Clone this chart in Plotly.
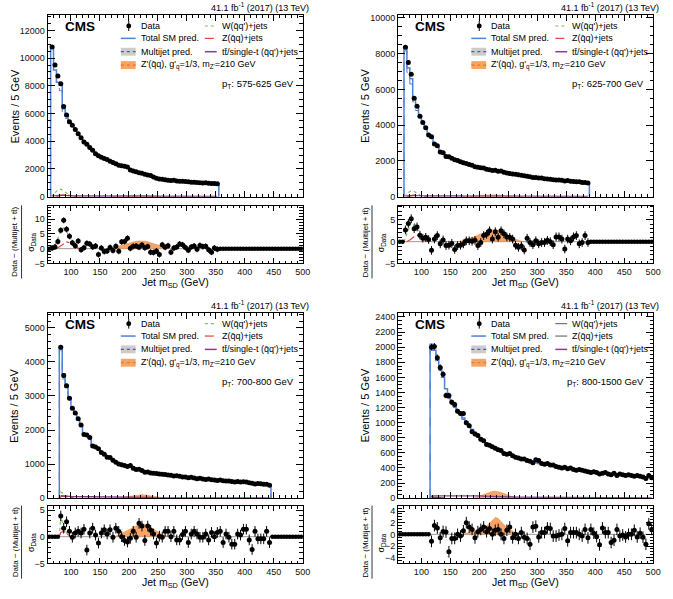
import numpy as np
import plotly.graph_objects as go

FIG_W, FIG_H = 673, 599
FONT = "Liberation Sans, Arial, Helvetica, sans-serif"

MSD_MIN, MSD_MAX = 60.0, 500.0
BIN_W = 5.0
LUMI_LABEL = "41.1 fb<sup>-1</sup> (2017) (13 TeV)"

# ---------------- panel 1 : pT 575-625 GeV ----------------
p1_pt = "575-625"
p1_first_bin = 67.5
p1_data = [
    10800, 9500, 8700, 8150, 6500, 5900, 5400, 5150, 4850, 4550,
    4250, 3950, 3780, 3550, 3350, 3100, 2950, 2850, 2750, 2680,
    2560, 2470, 2380, 2260, 2240, 2200, 2150, 1920, 1860, 1800,
    1720, 1690, 1620, 1560, 1530, 1420, 1330, 1280, 1250, 1220,
    1190, 1160, 1180, 1140, 1110, 1120, 1090, 1070, 1050, 1040,
    1020, 1010, 990, 1000, 970, 960, 950, 930]
p1_total = [
    10850, 9150, 8250, 8050, 6350, 5850, 5350, 5100, 4800, 4500,
    4200, 3950, 3750, 3520, 3300, 3050, 2980, 2870, 2760, 2650,
    2550, 2460, 2370, 2290, 2220, 2160, 2100, 1950, 1880, 1810,
    1740, 1680, 1620, 1570, 1510, 1430, 1350, 1300, 1260, 1230,
    1200, 1180, 1160, 1140, 1120, 1110, 1090, 1070, 1050, 1040,
    1020, 1005, 995, 985, 970, 960, 950, 935]
p1_multijet = [
    10750, 9000, 7950, 7650, 6050, 5650, 5250, 5050, 4770, 4480,
    4180, 3930, 3730, 3500, 3280, 3030, 2960, 2850, 2740, 2630,
    2530, 2440, 2350, 2270, 2200, 2140, 2080, 1930, 1860, 1790,
    1720, 1660, 1600, 1550, 1490, 1410, 1330, 1280, 1240, 1210,
    1185, 1165, 1145, 1125, 1105, 1095, 1075, 1055, 1035, 1025,
    1005, 990, 980, 970, 955, 945, 935, 920]
p1_ttbar = [
    40, 70, 100, 110, 90, 70, 60, 55, 50, 50,
    50, 50, 50, 50, 50, 50, 55, 55, 60, 60,
    60, 60, 55, 55, 50, 50, 45, 45, 40, 40,
    40, 35, 35, 35, 30, 30, 30, 30, 25, 25,
    25, 25, 25, 20, 20, 20, 20, 20, 20, 20,
    15, 15, 15, 15, 15, 15, 15, 15]
p1_w_first, p1_wjets = 67.5, [100, 280, 480, 550, 420, 230, 110, 50, 20]
p1_z_first, p1_zjets = 77.5, [30, 80, 130, 140, 100, 50, 20]
p1_sig_first = 172.5
p1_signal = [10, 20, 35, 50, 65, 80, 90, 100, 105, 105, 100, 90, 80, 65, 50, 35, 20, 10, 5]
p1_ratio = [
    0.2, 0.6, 2.4, 6.2, 9.6, 6.6, 4.2, 2.0, 1.0, 2.6,
    -0.4, 0.3, 1.8, 1.6, 0.6, 0.9, -2.0, 0.2, -1.0, -0.8,
    0.4, -0.6, 0.8, -0.9, 2.3, 2.4, 3.5, 0.1, 0.8, 0.9,
    0.5, 1.2, 0.3, 0.7, -1.2, -1.3, -0.8, -2.0, 1.3, 0.5,
    1.0, -1.2, 0.2, 0.6, 1.6, 1.3, 0.4, -0.5, 0.6, 0.9,
    -0.2, 1.1, 0.7, 0.8, -0.4, -1.2, 0.2, -0.2]
p1_rw_first, p1_ratio_w = 67.5, [0.2, 1.0, 3.2, 6.0, 7.0, 5.8, 4.0, 2.4, 1.0, 0.3, 0.0]
p1_rz_first, p1_ratio_z = 77.5, [0.3, 0.9, 1.8, 2.3, 2.0, 1.2, 0.5, 0.1, 0.0]
p1_rs_first = 167.5
p1_ratio_sig = [0.1, 0.3, 0.5, 0.8, 1.1, 1.4, 1.7, 2.0, 2.3, 2.5, 2.6,
                2.6, 2.5, 2.3, 2.0, 1.7, 1.3, 1.0, 0.6, 0.3, 0.1]

# ---------------- panel 2 : pT 625-700 GeV ----------------
p2_pt = "625-700"
p2_first_bin = 72.5
p2_data = [
    8350, 7500, 6850, 5500, 5050, 4500, 4150, 3850, 3450, 3350,
    2950, 2850, 2500, 2450, 2250, 2230, 2150, 2070, 2030, 1950,
    1900, 1850, 1800, 1760, 1680, 1640, 1620, 1600, 1540, 1510,
    1470, 1480, 1420, 1430, 1370, 1330, 1300, 1270, 1250, 1220,
    1200, 1170, 1140, 1120, 1080, 1070, 1050, 1040, 1010, 990,
    970, 950, 940, 930, 920, 880, 900, 860, 850, 840,
    830, 800, 790, 770]
p2_total = [
    8300, 7200, 6600, 5550, 5000, 4500, 4150, 3850, 3500, 3300,
    2980, 2820, 2550, 2450, 2300, 2220, 2150, 2080, 2020, 1960,
    1900, 1850, 1800, 1750, 1700, 1660, 1620, 1580, 1540, 1510,
    1480, 1450, 1420, 1400, 1370, 1340, 1310, 1280, 1250, 1230,
    1200, 1170, 1150, 1120, 1100, 1080, 1060, 1040, 1020, 1000,
    980, 960, 945, 930, 915, 900, 885, 870, 855, 840,
    825, 810, 795, 780]
p2_multijet = [
    8150, 6950, 6300, 5300, 4820, 4400, 4100, 3820, 3480, 3280,
    2960, 2800, 2530, 2430, 2280, 2200, 2130, 2060, 2000, 1940,
    1880, 1830, 1780, 1730, 1680, 1640, 1600, 1560, 1520, 1490,
    1460, 1430, 1400, 1380, 1350, 1320, 1290, 1260, 1230, 1210,
    1185, 1155, 1135, 1105, 1085, 1065, 1045, 1025, 1005, 985,
    965, 945, 930, 915, 900, 885, 870, 855, 840, 825,
    810, 795, 780, 765]
p2_ttbar = [
    30, 60, 80, 80, 60, 50, 45, 40, 40, 40,
    40, 40, 45, 45, 50, 50, 50, 50, 45, 45,
    40, 40, 40, 35, 35, 35, 30, 30, 30, 30,
    25, 25, 25, 25, 25, 20, 20, 20, 20, 20,
    20, 15, 15, 15, 15, 15, 15, 15, 15, 10,
    10, 10, 10, 10, 10, 10, 10, 10, 10, 10,
    10, 10, 10, 10]
p2_w_first, p2_wjets = 72.5, [80, 230, 330, 300, 180, 80, 30, 10]
p2_z_first, p2_zjets = 77.5, [20, 60, 100, 110, 70, 30, 10]
p2_sig_first = 172.5
p2_signal = [10, 20, 30, 45, 60, 75, 85, 95, 100, 105, 105, 100, 92, 80, 65, 50, 35, 22, 12, 6, 2]
p2_ratio = [
    2.7, 4.2, 5.3, 3.0, 3.4, 1.5, 0.8, 1.0, 0.5, -2.0,
    0.6, 1.4, -0.5, 0.4, -0.9, -0.8, -0.4, -1.8, -0.9, -0.8,
    -0.5, 0.2, 0.2, 0.1, 0.3, -0.9, -0.2, 1.4, 1.7, 2.5,
    0.6, 2.3, 1.0, 2.5, 1.8, 1.1, 1.0, 0.6, -0.8, -1.3,
    -1.0, -1.9, 0.8, -0.2, -0.7, 0.2, -0.5, -0.2, -0.2, 0.3,
    0.0, -0.7, 1.1, 1.1, 0.6, -1.7, 0.6, 0.2, 1.1, 1.4,
    -0.5, -0.2, 1.4, -0.2]
p2_rw_first, p2_ratio_w = 72.5, [1.0, 2.8, 4.5, 4.3, 3.0, 1.6, 0.6, 0.2, 0.0]
p2_rz_first, p2_ratio_z = 77.5, [0.2, 0.6, 1.2, 1.5, 1.2, 0.6, 0.2, 0.0]
p2_rs_first = 167.5
p2_ratio_sig = [0.1, 0.2, 0.4, 0.6, 0.9, 1.2, 1.5, 1.8, 2.1, 2.4, 2.6, 2.7,
                2.7, 2.6, 2.4, 2.1, 1.8, 1.4, 1.0, 0.6, 0.3, 0.1, 0.0]

# ---------------- panel 3 : pT 700-800 GeV ----------------
p3_pt = "700-800"
p3_first_bin = 82.5
p3_data = [
    4430, 3600, 3300, 2930, 2640, 2500, 2330, 2150, 1870, 1850,
    1780, 1530, 1500, 1450, 1340, 1290, 1200, 1190, 1110, 1050,
    1000, 980, 960, 930, 960, 880, 840, 850, 810, 760,
    770, 740, 730, 720, 710, 700, 690, 680, 670, 650,
    660, 640, 620, 620, 600, 610, 590, 570, 580, 560,
    550, 560, 540, 530, 520, 530, 510, 500, 505, 490,
    470, 490, 475, 480, 470, 450, 440, 415, 430, 420,
    410, 405, 380]
p3_total = [
    4450, 3650, 3250, 2950, 2650, 2480, 2320, 2120, 1900, 1840,
    1760, 1560, 1500, 1440, 1350, 1290, 1210, 1180, 1110, 1060,
    1010, 980, 950, 930, 910, 880, 850, 830, 800, 780,
    760, 745, 730, 720, 705, 695, 685, 675, 665, 655,
    645, 635, 625, 615, 605, 595, 585, 575, 565, 560,
    550, 545, 535, 530, 520, 515, 505, 500, 495, 488,
    482, 476, 470, 465, 458, 452, 446, 440, 433, 426,
    418, 410, 402]
p3_multijet = [
    4350, 3500, 3150, 2880, 2600, 2450, 2300, 2100, 1880, 1820,
    1740, 1540, 1480, 1420, 1330, 1270, 1190, 1160, 1090, 1040,
    990, 960, 930, 910, 890, 860, 830, 810, 780, 760,
    745, 730, 715, 705, 690, 680, 670, 660, 650, 640,
    630, 620, 612, 602, 592, 582, 572, 562, 553, 548,
    538, 533, 523, 518, 508, 503, 493, 488, 483, 476,
    470, 464, 458, 453, 446, 440, 434, 428, 421, 414,
    406, 398, 390]
p3_ttbar = [
    70, 70, 60, 50, 45, 40, 40, 40, 40, 40,
    40, 40, 40, 40, 40, 35, 35, 35, 30, 30,
    30, 30, 25, 25, 25, 25, 20, 20, 20, 20,
    20, 20, 15, 15, 15, 15, 15, 15, 15, 15,
    12, 12, 12, 12, 12, 10, 10, 10, 10, 10,
    10, 10, 10, 10, 8, 8, 8, 8, 8, 8,
    8, 8, 8, 8, 6, 6, 6, 6, 6, 6,
    6, 6, 6]
p3_w_first, p3_wjets = 82.5, [180, 130, 60, 25, 10]
p3_z_first, p3_zjets = 82.5, [40, 60, 50, 25, 10]
p3_sig_first = 177.5
p3_signal = [5, 15, 25, 40, 55, 70, 85, 95, 100, 100, 95, 85, 70, 55, 40, 25, 12, 5]
p3_ratio = [
    3.9, 1.6, 2.8, 1.0, -0.1, 0.7, 1.0, 0.7, 1.4, -2.5,
    0.7, 1.6, 0.3, -1.2, 0.7, 1.3, 0.5, 1.3, -0.1, 1.6,
    1.0, 0.0, -0.7, -1.0, -0.3, 1.0, -0.1, 2.5, 2.0, -0.7,
    2.0, 1.2, 0.5, -1.2, 0.1, -0.1, 1.0, 1.0, 0.0, 1.0,
    -0.6, -0.6, 0.4, 1.0, -1.1, 0.5, 1.0, 0.5, -0.1, -0.1,
    0.5, -0.6, 0.8, 0.0, 0.8, 1.0, -1.1, 0.5, -0.1, -1.4,
    -1.4, 0.5, 0.3, 1.4, 1.4, -0.6, -2.4, 1.0, -0.4, -0.4,
    -0.4, 1.0, -1.1]
p3_rw_first, p3_ratio_w = 82.5, [3.8, 1.8, 0.7, 0.2, 0.0]
p3_rz_first, p3_ratio_z = 82.5, [0.8, 1.0, 0.6, 0.2, 0.0]
p3_rs_first = 177.5
p3_ratio_sig = [0.1, 0.3, 0.6, 0.9, 1.2, 1.5, 1.8, 2.1, 2.3, 2.4,
                2.3, 2.1, 1.8, 1.4, 1.0, 0.7, 0.4, 0.2, 0.05]

# ---------------- panel 4 : pT 800-1500 GeV ----------------
p4_pt = "800-1500"
p4_first_bin = 117.5
p4_data = [
    2000, 2010, 1860, 1730, 1640, 1360, 1360, 1270, 1240, 1150,
    1120, 1120, 1000, 960, 880, 850, 830, 780, 760, 710,
    700, 680, 660, 640, 630, 590, 580, 590, 560, 540,
    530, 520, 520, 500, 490, 470, 510, 500, 460, 450,
    460, 440, 440, 420, 410, 400, 410, 390, 400, 380,
    370, 380, 370, 360, 350, 340, 350, 340, 320, 330,
    340, 320, 310, 330, 300, 320, 310, 300, 310, 300,
    290, 300, 290, 280, 260, 300, 270]
p4_total = [
    2040, 1960, 1830, 1720, 1600, 1450, 1340, 1280, 1220, 1160,
    1110, 1060, 1010, 960, 910, 870, 830, 795, 760, 730,
    705, 680, 660, 640, 620, 600, 585, 570, 555, 540,
    528, 516, 505, 495, 485, 476, 468, 460, 452, 444,
    436, 428, 420, 413, 406, 400, 394, 388, 382, 376,
    370, 365, 360, 355, 350, 345, 340, 336, 332, 328,
    324, 320, 316, 312, 308, 304, 300, 297, 294, 291,
    288, 285, 282, 279, 276, 273, 270]
p4_multijet = [
    2000, 1925, 1800, 1690, 1575, 1425, 1318, 1258, 1200, 1140,
    1091, 1042, 993, 944, 895, 856, 817, 783, 749, 720,
    695, 671, 652, 632, 613, 593, 578, 564, 549, 535,
    523, 511, 500, 490, 481, 472, 464, 456, 448, 440,
    432, 424, 417, 410, 403, 397, 391, 385, 379, 373,
    367, 362, 357, 352, 347, 342, 338, 334, 330, 326,
    322, 318, 314, 310, 306, 302, 298, 295, 292, 289,
    286, 283, 280, 277, 274, 271, 268]
p4_ttbar = [
    30, 30, 30, 30, 30, 30, 32, 34, 36, 38,
    40, 40, 40, 38, 36, 34, 32, 30, 28, 26,
    24, 22, 20, 20, 18, 18, 16, 16, 15, 15,
    14, 14, 13, 13, 12, 12, 11, 11, 10, 10,
    10, 9, 9, 9, 8, 8, 8, 8, 7, 7,
    7, 7, 6, 6, 6, 6, 6, 5, 5, 5,
    5, 5, 5, 5, 4, 4, 4, 4, 4, 4,
    4, 3, 3, 3, 3, 3, 3]
p4_w_first, p4_wjets = 117.5, [25, 15, 8, 4, 2]
p4_z_first, p4_zjets = 117.5, [12, 8, 4, 2, 1]
p4_sig_first = 192.5
p4_signal = [5, 15, 28, 45, 62, 78, 88, 92, 88, 76, 60, 42, 28, 16, 8, 3]
p4_ratio = [
    -1.2, 1.5, 1.1, -0.6, 0.5, 0.4, -3.0, -0.7, -0.7, 0.0,
    -0.3, 0.6, 2.0, 1.25, 0.85, -0.6, 0.45, 0.85, 1.25, 0.45,
    1.0, 0.0, 0.7, 0.85, 0.0, -0.7, 0.7, 1.25, -0.6, 0.0,
    -0.7, 0.3, -0.5, -0.7, -1.7, 1.25, 1.4, -0.45, 0.3, 0.3,
    1.1, 1.0, -0.3, -0.3, -0.1, 0.0, 1.0, -1.1, 0.3, 0.3,
    0.3, 0.0, -0.3, 0.85, -0.6, 0.85, 0.2, -0.4, -1.8, 1.1,
    0.3, 0.3, -1.4, -1.0, 0.85, -0.3, -0.1, -0.45, 0.0, 0.0,
    0.7, -0.45, 0.2, -0.5, -1.7, 1.8, 0.85]
p4_rw_first, p4_ratio_w = 117.5, []
p4_rz_first, p4_ratio_z = 117.5, []
p4_rs_first = 172.5
p4_ratio_sig = [0.05, 0.15, 0.3, 0.45, 0.6, 0.75, 0.9, 1.1, 1.4, 1.9, 2.5,
                2.9, 2.7, 2.2, 1.6, 1.1, 0.8, 0.5, 0.3, 0.15, 0.05]

# ---------------- styling ----------------
BLUE = "#4d84d6"
MULTI_LINE = "#7070b8"
MULTI_BAND = "#cccccc"
W_GREEN = "#7cbf5c"
Z_RED = "#e8413c"
TT_PURPLE = "#8e3a8e"
SIG_FILL = "rgba(245,148,78,0.85)"
SIG_LINE = "#ef8a3e"

GEOM = [
    dict(L=48.3, R=306.5, T=13.3, MB=197.0, RT=206.0, RB=264.5),
    dict(L=403.0, R=661.0, T=13.3, MB=197.0, RT=206.0, RB=264.5),
    dict(L=48.3, R=306.5, T=314.5, MB=502.0, RT=510.0, RB=568.0),
    dict(L=403.0, R=661.0, T=314.5, MB=502.0, RT=510.0, RB=568.0),
]

PANELS = [
    dict(pt=p1_pt, first=p1_first_bin, data=p1_data, total=p1_total, multi=p1_multijet, tt=p1_ttbar,
         w=(p1_w_first, p1_wjets), z=(p1_z_first, p1_zjets), sig=(p1_sig_first, p1_signal),
         ratio=p1_ratio, rw=(p1_rw_first, p1_ratio_w), rz=(p1_rz_first, p1_ratio_z),
         rsig=(p1_rs_first, p1_ratio_sig),
         yr=[0, 13100], dy=2000, mdy=500, ryr=[-5, 14.6], rdy=5, rmdy=1, drop=True, wzsolid=False),
    dict(pt=p2_pt, first=p2_first_bin, data=p2_data, total=p2_total, multi=p2_multijet, tt=p2_ttbar,
         w=(p2_w_first, p2_wjets), z=(p2_z_first, p2_zjets), sig=(p2_sig_first, p2_signal),
         ratio=p2_ratio, rw=(p2_rw_first, p2_ratio_w), rz=(p2_rz_first, p2_ratio_z),
         rsig=(p2_rs_first, p2_ratio_sig),
         yr=[0, 10150], dy=2000, mdy=500, ryr=[-5, 8.3], rdy=5, rmdy=1, drop=True, wzsolid=False),
    dict(pt=p3_pt, first=p3_first_bin, data=p3_data, total=p3_total, multi=p3_multijet, tt=p3_ttbar,
         w=(p3_w_first, p3_wjets), z=(p3_z_first, p3_zjets), sig=(p3_sig_first, p3_signal),
         ratio=p3_ratio, rw=(p3_rw_first, p3_ratio_w), rz=(p3_rz_first, p3_ratio_z),
         rsig=(p3_rs_first, p3_ratio_sig),
         yr=[0, 5440], dy=1000, mdy=200, ryr=[-5, 5.75], rdy=5, rmdy=1, drop=True, wzsolid=False),
    dict(pt=p4_pt, first=p4_first_bin, data=p4_data, total=p4_total, multi=p4_multijet, tt=p4_ttbar,
         w=(p4_w_first, p4_wjets), z=(p4_z_first, p4_zjets), sig=(p4_sig_first, p4_signal),
         ratio=p4_ratio, rw=(p4_rw_first, p4_ratio_w), rz=(p4_rz_first, p4_ratio_z),
         rsig=(p4_rs_first, p4_ratio_sig),
         yr=[0, 2455], dy=200, mdy=50, ryr=[-4.97, 4.85], rdy=2, rmdy=0.5, drop=False, wzsolid=True),
]


def px_x(px):
    return px / FIG_W


def px_y(py):
    return 1 - py / FIG_H


def centers(first, n):
    return [first + BIN_W * i for i in range(n)]


def step_xy(first, vals, drop_end=True):
    n = len(vals)
    left = first - BIN_W / 2
    edges = [left + BIN_W * i for i in range(n + 1)]
    x = [edges[0]] + edges[:n] + [edges[n]]
    y = [0] + list(vals) + [vals[-1]]
    if drop_end:
        x.append(edges[n])
        y.append(0)
    return x, y


def bump_xy(first, vals):
    c = centers(first, len(vals))
    return [c[0] - BIN_W / 2] + c + [c[-1] + BIN_W / 2], [0] + list(vals) + [0]


fig = go.Figure()
shapes = []
annotations = []
layout_axes = {}

for i, P in enumerate(PANELS):
    g = GEOM[i]
    km, kr = 2 * i + 1, 2 * i + 2
    xm = "x" if km == 1 else f"x{km}"
    ym = "y" if km == 1 else f"y{km}"
    xr, yr = f"x{kr}", f"y{kr}"
    xm_name = "xaxis" if km == 1 else f"xaxis{km}"
    ym_name = "yaxis" if km == 1 else f"yaxis{km}"

    # ---------- main panel ----------
    sx, sy = bump_xy(*P["sig"])
    fig.add_trace(go.Scatter(x=sx, y=sy, xaxis=xm, yaxis=ym, mode="lines", fill="tozeroy",
                             fillcolor=SIG_FILL, line=dict(color=SIG_LINE, width=0.6)))
    mx, my = step_xy(P["first"], P["multi"], P["drop"])
    fig.add_trace(go.Scatter(x=mx, y=my, xaxis=xm, yaxis=ym, mode="lines", line_shape="hv",
                             line=dict(color=MULTI_LINE, width=1, dash="dash")))
    wx, wy = bump_xy(*P["w"])
    zx, zy = bump_xy(*P["z"])
    if P["wzsolid"]:
        wstyle = dict(color="#555555", width=1)
        zstyle = dict(color="#555555", width=1)
    else:
        wstyle = dict(color=W_GREEN, width=1.2, dash="dot")
        zstyle = dict(color=Z_RED, width=1.2, dash="dashdot")
    fig.add_trace(go.Scatter(x=wx, y=wy, xaxis=xm, yaxis=ym, mode="lines", line=wstyle))
    fig.add_trace(go.Scatter(x=zx, y=zy, xaxis=xm, yaxis=ym, mode="lines", line=zstyle))
    fig.add_trace(go.Scatter(x=centers(P["first"], len(P["tt"])), y=P["tt"], xaxis=xm, yaxis=ym,
                             mode="lines", line=dict(color=TT_PURPLE, width=1.3)))
    tx, ty = step_xy(P["first"], P["total"], P["drop"])
    fig.add_trace(go.Scatter(x=tx, y=ty, xaxis=xm, yaxis=ym, mode="lines", line_shape="hv",
                             line=dict(color=BLUE, width=1.5)))
    dvals = np.array(P["data"], dtype=float)
    fig.add_trace(go.Scatter(x=centers(P["first"], len(dvals)), y=dvals, xaxis=xm, yaxis=ym,
                             mode="markers", marker=dict(color="black", size=5),
                             error_y=dict(type="data", array=np.sqrt(dvals), color="black",
                                          thickness=1, width=0),
                             error_x=dict(type="constant", value=BIN_W / 2, color="black",
                                          thickness=1, width=0)))

    # ---------- ratio panel ----------
    rsx, rsy = bump_xy(*P["rsig"])
    fig.add_trace(go.Scatter(x=rsx, y=rsy, xaxis=xr, yaxis=yr, mode="lines", fill="tozeroy",
                             fillcolor=SIG_FILL, line=dict(color=SIG_LINE, width=0.6)))
    if P["rw"][1]:
        c = centers(P["rw"][0], len(P["rw"][1]))
        fig.add_trace(go.Scatter(x=[c[0] - BIN_W / 2] + c, y=[0] + P["rw"][1], xaxis=xr, yaxis=yr,
                                 mode="lines", line=dict(color=W_GREEN, width=1.2, dash="dot")))
    if P["rz"][1]:
        c = centers(P["rz"][0], len(P["rz"][1]))
        fig.add_trace(go.Scatter(x=[c[0] - BIN_W / 2] + c, y=[0] + P["rz"][1], xaxis=xr, yaxis=yr,
                                 mode="lines", line=dict(color=Z_RED, width=1.2, dash="dashdot")))
    dc = centers(P["first"], len(P["ratio"]))
    all_c = list(np.arange(MSD_MIN + BIN_W / 2, MSD_MAX, BIN_W))
    out_c = [c for c in all_c if c < dc[0] - 0.1 or c > dc[-1] + 0.1]
    fig.add_trace(go.Scatter(x=out_c, y=[0] * len(out_c), xaxis=xr, yaxis=yr, mode="markers",
                             marker=dict(color="black", size=4.5),
                             error_x=dict(type="constant", value=BIN_W / 2, color="black",
                                          thickness=1, width=0)))
    fig.add_trace(go.Scatter(x=dc, y=P["ratio"], xaxis=xr, yaxis=yr, mode="markers",
                             marker=dict(color="black", size=5),
                             error_y=dict(type="constant", value=1.0, color="black",
                                          thickness=1, width=0),
                             error_x=dict(type="constant", value=BIN_W / 2, color="black",
                                          thickness=1, width=0)))
    shapes.append(dict(type="line", xref=f"{xr} domain", yref=yr, x0=0, x1=1, y0=0, y1=0,
                       line=dict(color="#9a9a9a", width=1), layer="below"))

    # ---------- axes ----------
    common = dict(showline=True, linecolor="black", linewidth=1.2, mirror="allticks",
                  ticks="inside", tickcolor="black", showgrid=False, zeroline=False,
                  tickfont=dict(family=FONT, size=9, color="#111"))
    xdom = [px_x(g["L"]), px_x(g["R"])]
    layout_axes[xm_name] = dict(common, domain=xdom, anchor=ym, range=[MSD_MIN, MSD_MAX],
                                tickmode="linear", tick0=0, dtick=50, ticklen=6,
                                minor=dict(ticks="inside", dtick=10, ticklen=3, tickcolor="black"),
                                showticklabels=False)
    layout_axes[ym_name] = dict(common, domain=[px_y(g["MB"]), px_y(g["T"])], anchor=xm,
                                range=P["yr"], tickmode="linear", tick0=0, dtick=P["dy"], ticklen=7,
                                tickformat="d",
                                minor=dict(ticks="inside", dtick=P["mdy"], ticklen=3.5,
                                           tickcolor="black"))
    layout_axes[f"xaxis{kr}"] = dict(common, domain=xdom, anchor=yr, range=[MSD_MIN, MSD_MAX],
                                     tickmode="linear", tick0=0, dtick=50, ticklen=5,
                                     minor=dict(ticks="inside", dtick=10, ticklen=2.5,
                                                tickcolor="black"))
    layout_axes[f"yaxis{kr}"] = dict(common, domain=[px_y(g["RB"]), px_y(g["RT"])], anchor=xr,
                                     range=P["ryr"], tickmode="linear", tick0=0, dtick=P["rdy"],
                                     ticklen=7, minor=dict(ticks="inside", dtick=P["rmdy"],
                                                           ticklen=3.5, tickcolor="black"))

    # ---------- texts ----------
    L, R, T = g["L"], g["R"], g["T"]

    def ann(text, x, y, size=9, xanchor="left", angle=0):
        annotations.append(dict(text=text, x=px_x(x), y=px_y(y), xref="paper", yref="paper",
                                xanchor=xanchor, yanchor="middle", showarrow=False,
                                textangle=angle, borderpad=0,
                                font=dict(family=FONT, size=size, color="black")))

    ann("<b>CMS</b>", L + 16, T + 11.5, size=13.5)
    ann(LUMI_LABEL, R + 7, T - 8.3, size=9, xanchor="right")
    ann(f"p<sub>T</sub>: {P['pt']} GeV", R - 8, T + 69.5, size=9.5, xanchor="right")
    ann("Events / 5 GeV", L - 33.5, (T + g["MB"]) / 2, size=11, xanchor="center", angle=-90)
    ann("Jet m<sub>SD</sub> (GeV)", (L + R) / 2, g["RB"] + 20, size=10.5, xanchor="center")
    rc = (g["RT"] + g["RB"]) / 2 + 7.5
    ann("Data \u2212 (Multijet + tt\u0304)", L - 33, rc, size=8, xanchor="center", angle=-90)
    ann("\u03c3<sub>Data</sub>", L - 16.5, rc + 0.5, size=9, xanchor="center", angle=-90)
    shapes.append(dict(type="line", xref="paper", yref="paper", x0=px_x(L - 26.5), x1=px_x(L - 26.5),
                       y0=px_y(rc - 37), y1=px_y(rc + 37), line=dict(color="black", width=0.8)))

    # ---------- legend ----------
    rows = [T + 11, T + 23.5, T + 37, T + 50.5]
    sx0, sx1, tx0 = L + 74, L + 89, L + 93
    cx = L + 82
    shapes.append(dict(type="line", xref="paper", yref="paper", x0=px_x(cx), x1=px_x(cx),
                       y0=px_y(rows[0] - 5), y1=px_y(rows[0] + 5), line=dict(color="black", width=1)))
    shapes.append(dict(type="circle", xref="paper", yref="paper", x0=px_x(cx - 2.5), x1=px_x(cx + 2.5),
                       y0=px_y(rows[0] + 2.5), y1=px_y(rows[0] - 2.5), fillcolor="black",
                       line=dict(color="black", width=0)))
    ann("Data", tx0, rows[0])
    shapes.append(dict(type="line", xref="paper", yref="paper", x0=px_x(sx0), x1=px_x(sx1),
                       y0=px_y(rows[1]), y1=px_y(rows[1]), line=dict(color=BLUE, width=1.5)))
    ann("Total SM pred.", tx0, rows[1])
    shapes.append(dict(type="rect", xref="paper", yref="paper", x0=px_x(sx0), x1=px_x(sx1),
                       y0=px_y(rows[2] + 4), y1=px_y(rows[2] - 4), fillcolor=MULTI_BAND,
                       line=dict(width=0)))
    shapes.append(dict(type="line", xref="paper", yref="paper", x0=px_x(sx0), x1=px_x(sx1),
                       y0=px_y(rows[2]), y1=px_y(rows[2]),
                       line=dict(color="#5555aa", width=1.2, dash="dot")))
    ann("Multijet pred.", tx0, rows[2])
    shapes.append(dict(type="rect", xref="paper", yref="paper", x0=px_x(sx0), x1=px_x(sx1),
                       y0=px_y(rows[3] + 4), y1=px_y(rows[3] - 4), fillcolor="#f7a462",
                       line=dict(width=0)))
    shapes.append(dict(type="line", xref="paper", yref="paper", x0=px_x(sx0), x1=px_x(sx1),
                       y0=px_y(rows[3]), y1=px_y(rows[3]),
                       line=dict(color="#e0703a", width=1.2, dash="dot")))
    ann("Z'(q\u0304q), g'<sub>q</sub>=1/3, m<sub>Z'</sub>=210 GeV", tx0, rows[3])

    rx0, rx1, rtx = L + 159, L + 171, L + 175
    if P["wzsolid"]:
        wl = dict(color="#555555", width=1)
        zl = dict(color="#555555", width=1)
    else:
        wl = dict(color=W_GREEN, width=1.2, dash="dot")
        zl = dict(color=Z_RED, width=1.2, dash="dashdot")
    shapes.append(dict(type="line", xref="paper", yref="paper", x0=px_x(rx0), x1=px_x(rx1),
                       y0=px_y(rows[0]), y1=px_y(rows[0]), line=wl))
    ann("W(q\u0304q')+jets", rtx, rows[0])
    shapes.append(dict(type="line", xref="paper", yref="paper", x0=px_x(rx0), x1=px_x(rx1),
                       y0=px_y(rows[1]), y1=px_y(rows[1]), line=zl))
    ann("Z(q\u0304q)+jets", rtx, rows[1])
    shapes.append(dict(type="line", xref="paper", yref="paper", x0=px_x(rx0), x1=px_x(rx1),
                       y0=px_y(rows[2]), y1=px_y(rows[2]), line=dict(color=TT_PURPLE, width=1.5)))
    ann("tt\u0304/single-t (q\u0304q')+jets", rtx, rows[2])

fig.update_layout(
    width=FIG_W, height=FIG_H,
    margin=dict(l=0, r=0, t=0, b=0),
    paper_bgcolor="white", plot_bgcolor="white",
    showlegend=False,
    font=dict(family=FONT, size=9, color="black"),
    shapes=shapes, annotations=annotations,
    **layout_axes,
)

fig.write_html("out.html", config={"displayModeBar": False})
